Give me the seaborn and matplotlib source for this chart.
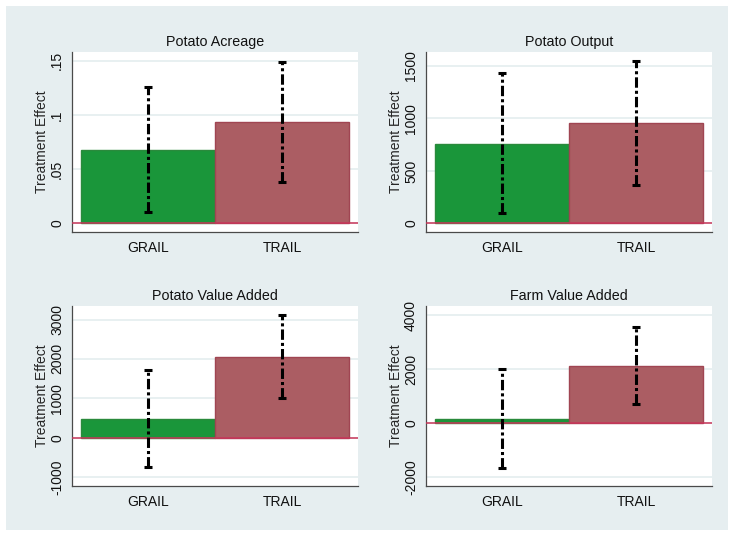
import matplotlib
matplotlib.use("Agg")
import matplotlib.pyplot as plt
from matplotlib.patches import Rectangle
import seaborn as sns
import pandas as pd

# Programs compared in every panel
programs = ["GRAIL", "TRAIL"]

# Panel titles
titles = ["Potato Acreage", "Potato Output", "Potato Value Added", "Farm Value Added"]

# Point estimates of the treatment effect
acreage_effect = [0.068, 0.093]
output_effect = [760, 957]
potato_va_effect = [482, 2056]
farm_va_effect = [170, 2133]

# Confidence interval bounds (lower, upper)
acreage_lo = [0.010, 0.038]
acreage_hi = [0.126, 0.149]
output_lo = [95, 366]
output_hi = [1431, 1549]
potato_va_lo = [-736, 1015]
potato_va_hi = [1726, 3114]
farm_va_lo = [-1667, 715]
farm_va_hi = [2022, 3578]

# Y-axis ticks and their labels
acreage_ticks = [0, 0.05, 0.10, 0.15]
acreage_labels = ["0", ".05", ".1", ".15"]
output_ticks = [0, 500, 1000, 1500]
output_labels = ["0", "500", "1000", "1500"]
potato_va_ticks = [-1000, 0, 1000, 2000, 3000]
potato_va_labels = ["-1000", "0", "1000", "2000", "3000"]
farm_va_ticks = [-2000, 0, 2000, 4000]
farm_va_labels = ["-2000", "0", "2000", "4000"]

# Y-axis ranges
acreage_ylim = (-0.008, 0.158)
output_ylim = (-83, 1634)
potato_va_ylim = (-1226, 3343)
farm_va_ylim = (-2322, 4344)

panels = [
    (acreage_effect, acreage_lo, acreage_hi, acreage_ticks, acreage_labels, acreage_ylim),
    (output_effect, output_lo, output_hi, output_ticks, output_labels, output_ylim),
    (potato_va_effect, potato_va_lo, potato_va_hi, potato_va_ticks, potato_va_labels, potato_va_ylim),
    (farm_va_effect, farm_va_lo, farm_va_hi, farm_va_ticks, farm_va_labels, farm_va_ylim),
]

sns.set_theme(style="white")
plt.rcParams["font.family"] = ["Liberation Sans", "DejaVu Sans"]
plt.rcParams["text.color"] = "#111111"

bar_colors = {"GRAIL": "#1a963a", "TRAIL": "#ab5d63"}
edge_colors = {"GRAIL": "#2a8a3c", "TRAIL": "#a04552"}
bg = "#e6eef0"
grid_color = "#e4edef"
spine_color = "#4a4a4a"

W, H = 735, 536
fig = plt.figure(figsize=(W / 100, H / 100), dpi=100, facecolor="white")
fig.patches.append(Rectangle((6 / W, 1 - 530 / H), (728 - 6) / W, (530 - 6) / H,
                             transform=fig.transFigure, facecolor=bg,
                             edgecolor="none", zorder=-10))

# axes rectangles in pixels: left, top, right, bottom
boxes = [(72, 52, 358, 232), (426, 52, 712, 232),
         (72, 306, 358, 486), (426, 306, 712, 486)]

for (eff, lo, hi, ticks, labels, ylim), title, (l, t, r, b) in zip(panels, titles, boxes):
    ax = fig.add_axes([l / W, 1 - b / H, (r - l) / W, (b - t) / H])
    ax.set_zorder(1)
    ax.set_facecolor("white")
    df = pd.DataFrame({"program": programs, "effect": eff})
    sns.barplot(data=df, x="program", y="effect", hue="program",
                palette=bar_colors, width=1.0, saturation=1,
                errorbar=None, legend=False, ax=ax, zorder=2)
    for patch, prog in zip(ax.patches, programs):
        patch.set_edgecolor(edge_colors[prog])
        patch.set_linewidth(1.0)

    # confidence intervals: dash-dot with caps
    mids = [(a + c) / 2 for a, c in zip(lo, hi)]
    half = [(c - a) / 2 for a, c in zip(lo, hi)]
    _, caps, bars = ax.errorbar(programs, mids, yerr=half, fmt="none",
                                ecolor="black", elinewidth=2.2,
                                capsize=2.6, capthick=2.2, zorder=4)
    for bc in bars:
        bc.set_linestyle((0, (3.4, 1.0, 1.0, 1.0)))
        bc.set_capstyle("butt")

    ax.axhline(0, color="#c9365a", lw=1.1, zorder=3)

    ax.set_xlim(-0.567, 1.567)
    ax.set_ylim(*ylim)
    ax.set_yticks(ticks)
    ax.set_yticklabels(labels)
    ax.yaxis.grid(True, color=grid_color, lw=1.2, zorder=0)
    ax.set_axisbelow(True)

    for side in ("top", "right"):
        ax.spines[side].set_visible(False)
    for side in ("left", "bottom"):
        ax.spines[side].set_color(spine_color)
        ax.spines[side].set_linewidth(0.9)

    ax.tick_params(axis="both", direction="out", length=3.2, width=0.9,
                   color=spine_color, labelsize=10, labelcolor="#111111")
    ax.tick_params(axis="y", labelrotation=90, pad=2.5)
    ax.tick_params(axis="x", pad=3.5)
    for lab in ax.get_yticklabels():
        lab.set_verticalalignment("center")

    ax.set_xlabel("")
    ax.set_ylabel("Treatment Effect", fontsize=10, va="center")
    ax.yaxis.set_label_coords(-0.106, 0.5)
    ax.set_title(title, fontsize=10.3, pad=4, color="#111111")

fig.savefig("out.png", dpi=100, facecolor="white")
